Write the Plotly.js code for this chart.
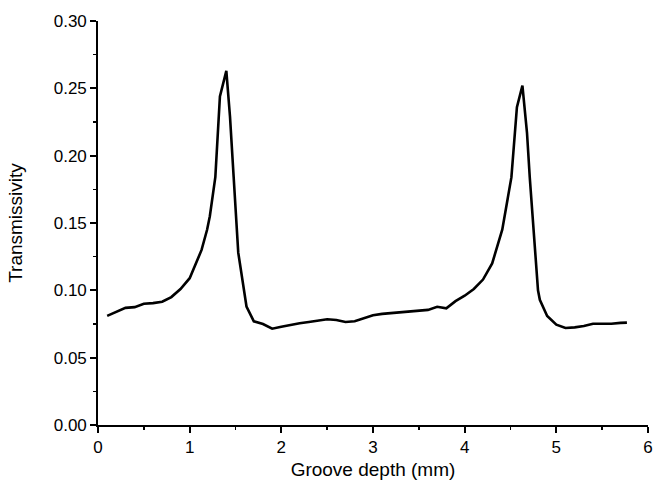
<!DOCTYPE html>
<html>
<head>
<meta charset="utf-8">
<script src="https://cdn.plot.ly/plotly-3.0.1.min.js"></script>
<style>html,body{margin:0;padding:0;background:#fff}#chart{width:654px;height:489px}</style>
</head>
<body>
<div id="chart"></div>
<script>
const depth = [0.1, 0.2, 0.3, 0.4, 0.5, 0.6, 0.7, 0.8, 0.9, 1.0, 1.13, 1.19, 1.22, 1.28, 1.33, 1.40, 1.44, 1.48, 1.51, 1.53, 1.62, 1.7, 1.8, 1.9, 2.0, 2.1, 2.2, 2.3, 2.4, 2.5, 2.6, 2.7, 2.8, 2.9, 3.0, 3.1, 3.2, 3.3, 3.4, 3.5, 3.6, 3.7, 3.8, 3.9, 4.0, 4.1, 4.2, 4.3, 4.41, 4.51, 4.57, 4.63, 4.68, 4.71, 4.75, 4.80, 4.82, 4.9, 5.0, 5.1, 5.2, 5.3, 5.4, 5.5, 5.6, 5.7, 5.77];
const transmissivity = [0.081, 0.084, 0.087, 0.0875, 0.090, 0.0905, 0.0915, 0.095, 0.101, 0.109, 0.130, 0.145, 0.155, 0.184, 0.244, 0.263, 0.229, 0.184, 0.145, 0.128, 0.088, 0.077, 0.075, 0.0715, 0.073, 0.0745, 0.0755, 0.0765, 0.0775, 0.0785, 0.078, 0.0765, 0.077, 0.079, 0.0815, 0.0825, 0.083, 0.0838, 0.0845, 0.085, 0.0855, 0.0878, 0.0866, 0.092, 0.096, 0.101, 0.108, 0.120, 0.145, 0.184, 0.236, 0.252, 0.217, 0.184, 0.145, 0.100, 0.093, 0.081, 0.0745, 0.072, 0.0725, 0.0735, 0.0752, 0.075, 0.0752, 0.0758, 0.076];
const xTicks = [0, 1, 2, 3, 4, 5, 6];
const yTicks = [0.00, 0.05, 0.10, 0.15, 0.20, 0.25, 0.30];

const font = {family: 'Liberation Sans, Arial, sans-serif', color: '#000'};
Plotly.newPlot('chart', [{
  x: depth, y: transmissivity, type: 'scatter', mode: 'lines',
  line: {color: '#000', width: 2.6}
}], {
  width: 654, height: 489,
  margin: {l: 98, r: 6, t: 21, b: 64},
  paper_bgcolor: '#fff', plot_bgcolor: '#fff',
  showlegend: false,
  font: Object.assign({size: 17}, font),
  xaxis: {
    range: [0, 6], tickvals: xTicks, ticktext: xTicks.map(String),
    showline: true, linecolor: '#000', linewidth: 1.8, mirror: false,
    ticks: 'outside', ticklen: 6, tickwidth: 1.8, tickcolor: '#000',
    showgrid: false, zeroline: false,
    tickfont: Object.assign({size: 17}, font),
    minor: {dtick: 0.5, tick0: 0, ticks: 'outside', ticklen: 3, tickwidth: 1.5, tickcolor: '#000', showgrid: false},
    title: {text: 'Groove depth (mm)', font: Object.assign({size: 19}, font), standoff: 6}
  },
  yaxis: {
    range: [0, 0.30], tickvals: yTicks, ticktext: yTicks.map(v => v.toFixed(2)),
    showline: true, linecolor: '#000', linewidth: 1.8, mirror: false,
    ticks: 'outside', ticklen: 6, tickwidth: 1.8, tickcolor: '#000',
    showgrid: false, zeroline: false,
    tickfont: Object.assign({size: 17}, font),
    minor: {dtick: 0.025, tick0: 0, ticks: 'outside', ticklen: 3, tickwidth: 1.5, tickcolor: '#000', showgrid: false},
    title: {text: 'Transmissivity', font: Object.assign({size: 19}, font), standoff: 26}
  }
}, {displayModeBar: false, staticPlot: true});
</script>
</body>
</html>
